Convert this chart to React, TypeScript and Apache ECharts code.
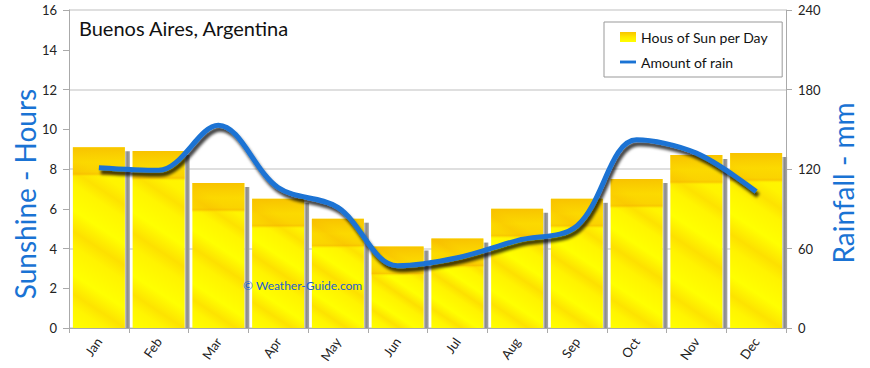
import React, { useEffect, useRef } from "react";
import * as echarts from "echarts";

const months = ["Jan", "Feb", "Mar", "Apr", "May", "Jun", "Jul", "Aug", "Sep", "Oct", "Nov", "Dec"];
const sunHours = [9.1, 8.9, 7.3, 6.5, 5.5, 4.1, 4.5, 6.0, 6.5, 7.5, 8.7, 8.8];
const rainMm = [121, 119, 153, 106, 91, 47, 53, 66, 77, 142, 132, 103];
const sunName = "Hous of Sun per Day";
const rainName = "Amount of rain";
const titleText = "Buenos Aires, Argentina";
const leftAxisName = "Sunshine - Hours";
const rightAxisName = "Rainfall - mm";
const watermark = "© Weather-Guide.com";

const FONT = "Lato, 'Open Sans', sans-serif";
const BLUE = "#1a73d4";

export default function App() {
  const ref = useRef<HTMLDivElement>(null);

  useEffect(() => {
    if (!ref.current) return;
    const chart = echarts.init(ref.current, undefined, { renderer: "svg" });

    const renderBar = (params: any, api: any) => {
      const idx = api.value(0);
      const val = api.value(1);
      const top = api.coord([idx, val]);
      const base = api.coord([idx, 0]);
      const band = api.size([1, 0])[0];
      const w = band * 0.87;
      const x = top[0] - w / 2;
      const y = top[1];
      const h = base[1] - top[1];
      const slope = 0.66;
      const L = (slope * w + h) / (1 + slope * slope);
      const stripe = new echarts.graphic.LinearGradient(
        x + w,
        y,
        x + w - slope * L,
        y + L,
        [
          { offset: 0, color: "#fffa00" },
          { offset: 0.2, color: "#fff400" },
          { offset: 0.27, color: "#fde200" },
          { offset: 0.33, color: "#fff500" },
          { offset: 0.45, color: "#ffff00" },
          { offset: 0.55, color: "#fde000" },
          { offset: 0.62, color: "#fff300" },
          { offset: 0.75, color: "#ffff00" },
          { offset: 0.84, color: "#fde300" },
          { offset: 0.9, color: "#fff500" },
          { offset: 1, color: "#ffff00" },
        ],
        true
      );
      const bandH = Math.min(30, h);
      const topBand = new echarts.graphic.LinearGradient(0, 0, 0, 1, [
        { offset: 0, color: "rgba(245,172,0,0.7)" },
        { offset: 0.5, color: "rgba(248,188,0,0.5)" },
        { offset: 0.82, color: "rgba(246,178,0,0.5)" },
        { offset: 0.9, color: "rgba(244,170,0,0.6)" },
        { offset: 1, color: "rgba(255,235,0,0)" },
      ]);
      const shadow = new echarts.graphic.LinearGradient(0, 0, 1, 0, [
        { offset: 0, color: "#cfcfcf" },
        { offset: 0.45, color: "#8a8a8a" },
        { offset: 1, color: "#a6a6a6" },
      ]);
      return {
        type: "group",
        children: [
          { type: "rect", shape: { x: x + w, y: y + 4, width: 5, height: h - 4 }, style: { fill: shadow } },
          { type: "rect", shape: { x, y, width: w, height: h }, style: { fill: stripe } },
          { type: "rect", shape: { x, y, width: w, height: bandH }, style: { fill: topBand } },
        ],
      };
    };

    const option: any = {
      animation: false,
      backgroundColor: "#ffffff",
      textStyle: { fontFamily: FONT },
      grid: { left: 69, right: 84, top: 10, bottom: 40 },
      legend: {
        left: 604,
        top: 22,
        orient: "vertical",
        backgroundColor: "#ffffff",
        borderColor: "#999999",
        borderWidth: 1,
        borderRadius: 0,
        padding: [8, 14, 8, 16],
        itemWidth: 16,
        itemHeight: 10,
        itemGap: 11,
        symbolKeepAspect: true,
        textStyle: { fontFamily: FONT, fontSize: 14, color: "#111" },
        data: [
          {
            name: sunName,
            icon: "rect",
            itemStyle: {
              color: new echarts.graphic.LinearGradient(0, 0, 0, 1, [
                { offset: 0, color: "#f8c400" },
                { offset: 0.5, color: "#ffe800" },
                { offset: 1, color: "#ffff00" },
              ]),
            },
          },
          {
            name: rainName,
            icon: "path://M0,0H20V3.6H0Z",
            itemStyle: { color: BLUE },
          },
        ],
      },
      xAxis: {
        type: "category",
        data: months,
        boundaryGap: true,
        axisLine: { lineStyle: { color: "#aaaaaa" } },
        axisTick: { show: true, length: 5, lineStyle: { color: "#aaaaaa" } },
        axisLabel: { rotate: 55, margin: 11, fontSize: 13, color: "#222", fontFamily: FONT },
        splitLine: { show: false },
      },
      yAxis: [
        {
          type: "value",
          min: 0,
          max: 16,
          interval: 2,
          position: "left",
          axisLine: { show: true, lineStyle: { color: "#aaaaaa" } },
          axisTick: { show: true, length: 6, lineStyle: { color: "#aaaaaa" } },
          axisLabel: { fontSize: 13, color: "#222", margin: 12, fontFamily: FONT },
          splitLine: { show: false },
        },
        {
          type: "value",
          min: 0,
          max: 240,
          interval: 60,
          position: "right",
          axisLine: { show: true, lineStyle: { color: "#aaaaaa" } },
          axisTick: { show: true, length: 6, lineStyle: { color: "#aaaaaa" } },
          axisLabel: { fontSize: 13, color: "#222", margin: 12, fontFamily: FONT },
          splitLine: { show: true, lineStyle: { color: "#d4d4d4", width: 1.5 } },
        },
      ],
      series: [
        {
          name: sunName,
          type: "custom",
          renderItem: renderBar,
          encode: { x: 0, y: 1 },
          data: sunHours.map((v, i) => [i, v]),
          z: 2,
        },
        {
          name: rainName,
          type: "line",
          yAxisIndex: 1,
          data: rainMm,
          smooth: 0.35,
          symbol: "none",
          showSymbol: false,
          z: 3,
          itemStyle: { color: BLUE },
          lineStyle: {
            color: BLUE,
            width: 5,
            shadowColor: "rgba(0,0,0,0.75)",
            shadowBlur: 3,
            shadowOffsetX: 2,
            shadowOffsetY: 4,
          },
        },
      ],
      graphic: [
        {
          type: "text",
          left: 79,
          top: 18,
          style: { text: titleText, fontSize: 20, fill: "#111", fontFamily: FONT },
        },
        {
          type: "text",
          x: 25,
          y: 194,
          rotation: Math.PI / 2,
          style: {
            text: leftAxisName,
            fontSize: 28,
            fill: BLUE,
            fontFamily: FONT,
            align: "center",
            verticalAlign: "middle",
          },
        },
        {
          type: "text",
          x: 843,
          y: 183,
          rotation: Math.PI / 2,
          style: {
            text: rightAxisName,
            fontSize: 28,
            fill: BLUE,
            fontFamily: FONT,
            align: "center",
            verticalAlign: "middle",
          },
        },
        {
          type: "text",
          left: 243,
          top: 279,
          z: 10,
          style: { text: watermark, fontSize: 12, fill: "#1c5fd0", fontFamily: FONT },
        },
      ],
    };

    chart.setOption(option);
    return () => chart.dispose();
  }, []);

  return (
    <div
      ref={ref}
      style={{ position: "fixed", left: 0, top: 0, width: 870, height: 368 }}
    />
  );
}
